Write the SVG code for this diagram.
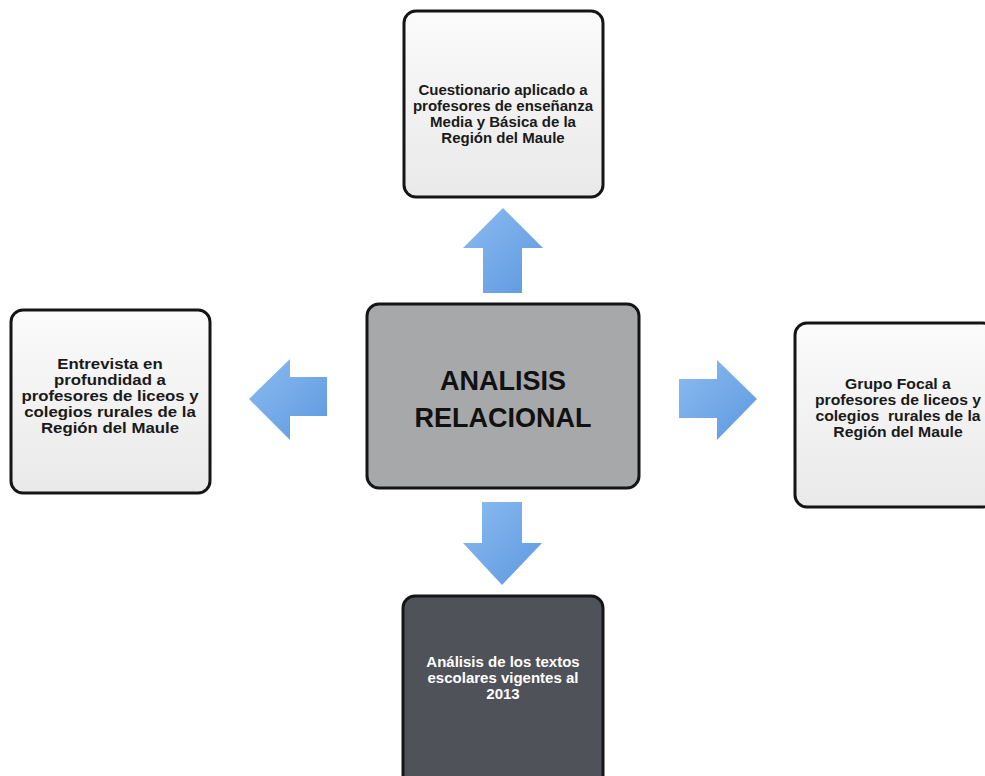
<svg xmlns="http://www.w3.org/2000/svg" width="985" height="776" viewBox="0 0 985 776">
  <defs>
    <linearGradient id="boxFill" x1="0" y1="0" x2="0" y2="1">
      <stop offset="0" stop-color="#fbfbfb"/>
      <stop offset="1" stop-color="#e9e9e9"/>
    </linearGradient>
    <linearGradient id="arrowFill" x1="0" y1="0" x2="1" y2="1">
      <stop offset="0" stop-color="#8cbcf0"/>
      <stop offset="1" stop-color="#5c98e0"/>
    </linearGradient>
    <style>
      .box { stroke: #151515; stroke-width: 3; }
      .light { fill: url(#boxFill); }
      .arrow { fill: url(#arrowFill); }
      .lbl { font-family: "Liberation Sans", Arial, sans-serif; font-weight: bold; font-size: 15px; text-anchor: middle; fill: #1a1a1a; }
      .lbl-w { fill: #ffffff; }
      .big { font-family: "Liberation Sans", Arial, sans-serif; font-weight: bold; font-size: 27px; text-anchor: middle; fill: #111111; }
    </style>
  </defs>

  <rect width="985" height="776" fill="#ffffff"/>

  <!-- connectors: block arrows from the centre box -->
  <g id="connectors">
    <polygon class="arrow" points="503,208 543,248 522,248 522,293 483,293 483,248 463,248"/>
    <polygon class="arrow" points="249,399 290,359 290,377 327,377 327,416 290,416 290,440"/>
    <polygon class="arrow" points="757,399 717,360 717,379 679,379 679,418 717,418 717,440"/>
    <polygon class="arrow" points="502,585 542,543 522,543 522,502 482,502 482,543 463,543"/>
  </g>

  <g id="node-center">
    <rect class="box" x="367" y="304" width="272" height="184" rx="12" fill="#a6a8a9"/>
    <text class="big" x="503" y="390">ANALISIS</text>
    <text class="big" x="503" y="427">RELACIONAL</text>
  </g>

  <g id="node-top">
    <rect class="box light" x="404" y="11" width="199" height="186" rx="12"/>
    <text class="lbl" x="503" y="95">Cuestionario aplicado a</text>
    <text class="lbl" x="503" y="111">profesores de enseñanza</text>
    <text class="lbl" x="503" y="127">Media y Básica de la</text>
    <text class="lbl" x="503" y="143">Región del Maule</text>
  </g>

  <g id="node-left">
    <rect class="box light" x="11" y="310" width="199" height="183" rx="12"/>
    <g transform="translate(110,0) scale(1.12,1) translate(-110,0)">
      <text class="lbl" x="110" y="369">Entrevista en</text>
      <text class="lbl" x="110" y="385">profundidad a</text>
      <text class="lbl" x="110" y="401">profesores de liceos y</text>
      <text class="lbl" x="110" y="417">colegios rurales de la</text>
      <text class="lbl" x="110" y="433">Región del Maule</text>
    </g>
  </g>

  <g id="node-right">
    <rect class="box light" x="795" y="323" width="200" height="184" rx="12"/>
    <g transform="translate(898,0) scale(1.05,1) translate(-898,0)">
      <text class="lbl" x="898" y="389">Grupo Focal a</text>
      <text class="lbl" x="898" y="405">profesores de liceos y</text>
      <text class="lbl" x="898" y="421" xml:space="preserve">colegios  rurales de la</text>
      <text class="lbl" x="898" y="437">Región del Maule</text>
    </g>
  </g>

  <g id="node-bottom">
    <rect class="box" x="403" y="596" width="200" height="200" rx="12" fill="#4f5259"/>
    <text class="lbl lbl-w" x="503" y="667">Análisis de los textos</text>
    <text class="lbl lbl-w" x="503" y="683">escolares vigentes al</text>
    <text class="lbl lbl-w" x="503" y="699">2013</text>
  </g>
</svg>
